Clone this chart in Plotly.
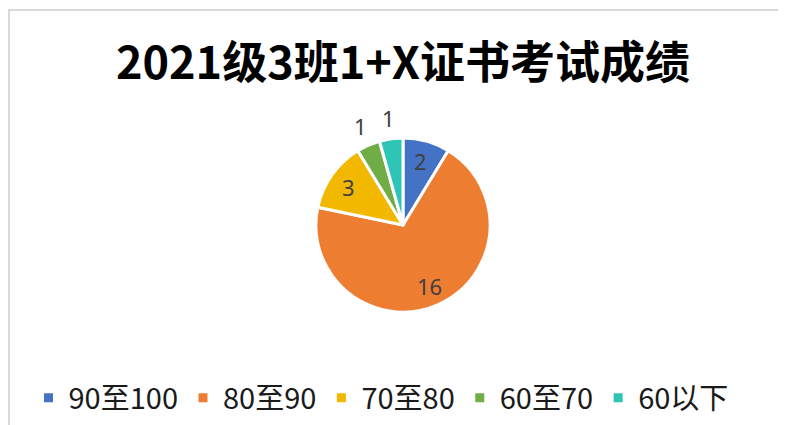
import math
import plotly.graph_objects as go

categories = ["90至100", "80至90", "70至80", "60至70", "60以下"]
counts = [2, 16, 3, 1, 1]
colors = ["#4472C4", "#ED7D31", "#F2B800", "#70AD47", "#2EC4B6"]
label_outside = [False, False, False, True, True]
title_text = "2021级3班1+X证书考试成绩"

# figure geometry (page body has an 8px margin, so coordinates are figure-local)
W, H = 786, 425
cx, cy, r = 395, 217, 87

fig = go.Figure(go.Pie(
    labels=categories,
    values=counts,
    sort=False,
    direction="clockwise",
    rotation=0,
    marker=dict(colors=colors, line=dict(color="white", width=3)),
    textinfo="none",
    domain=dict(x=[(cx - r) / W, (cx + r) / W], y=[1 - (cy + r) / H, 1 - (cy - r) / H]),
    hoverinfo="label+value",
))

# value labels placed at each slice's mid-angle (derived from the data)
total = sum(counts)
annotations = []
acc = 0
for v, out in zip(counts, label_outside):
    mid = (acc + v / 2) / total * 2 * math.pi
    acc += v
    rr = r * (1.24 if out else 0.76)
    annotations.append(dict(
        x=(cx + rr * math.sin(mid)) / W,
        y=1 - (cy - rr * math.cos(mid)) / H,
        xref="paper", yref="paper",
        text=str(v), showarrow=False,
        xanchor="center", yanchor="middle",
        font=dict(size=22, color="#404040", family="Noto Sans"),
    ))

fig.update_layout(
    width=W, height=H,
    margin=dict(l=0, r=0, t=0, b=0),
    paper_bgcolor="white",
    plot_bgcolor="white",
    title=dict(
        text="<b>" + title_text + "</b>",
        x=395 / W, xanchor="center",
        y=1 - 55 / H, yanchor="middle",
        font=dict(size=45, color="#000000", family="Noto Sans CJK SC"),
    ),
    legend=dict(
        orientation="h",
        x=373 / W, xanchor="center",
        y=1 - 390 / H, yanchor="middle",
        font=dict(size=29, color="#1a1a1a", family="Noto Sans CJK SC"),
        itemwidth=30,
        traceorder="normal",
    ),
    annotations=annotations,
    shapes=[
        dict(type="line", xref="paper", yref="paper", x0=0, x1=1, y0=1 - 2 / H, y1=1 - 2 / H,
             line=dict(color="#d9d9d9", width=2)),
        dict(type="line", xref="paper", yref="paper", x0=1 / W, x1=1 / W, y0=0, y1=1 - 2 / H,
             line=dict(color="#d9d9d9", width=2)),
    ],
)

fig.write_html("out.html")
